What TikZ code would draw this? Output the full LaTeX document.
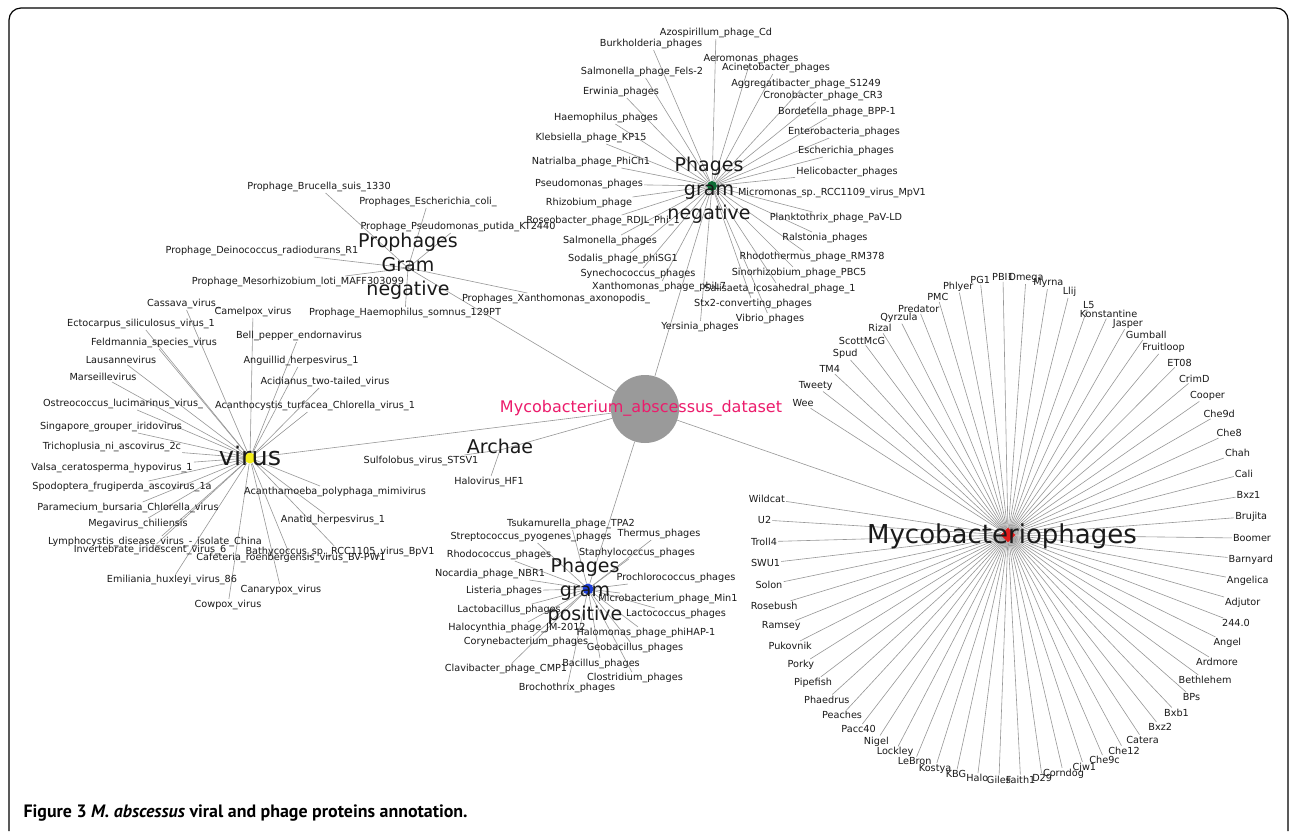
\documentclass[tikz,border=0pt]{standalone}
\usepackage{fontspec}
\setmainfont{DejaVu Sans}
\newfontfamily\capfont{PT Sans}
\usetikzlibrary{backgrounds,shapes.geometric,calc}
\definecolor{Ink}{HTML}{1A1A1A}
\definecolor{EdgeGrey}{HTML}{979797}
\definecolor{HubGrey}{HTML}{9A9A9A}
\definecolor{DataPink}{HTML}{EC1C6C}
\definecolor{NegGreen}{HTML}{0E6B35}
\definecolor{PosBlue}{HTML}{1E3FD8}
\definecolor{VirYellow}{HTML}{F4EE1A}
\definecolor{MycoRed}{HTML}{E01B1B}

\begin{document}
\begin{tikzpicture}[x=1pt,y=-1pt,
  leaf/.style={inner sep=1pt,text=Ink,font=\fontsize{9.7}{11}\selectfont},
  hubtext/.style={align=center,text=Ink,font=\fontsize{19}{24}\selectfont},
  hubdot/.style={circle,inner sep=0pt,minimum size=10pt},
  edge/.style={EdgeGrey,line width=.6pt}]
\useasboundingbox (0,0) rectangle (1293,831);
\draw[line width=1.2pt,rounded corners=12pt] (9,831)--(9,8)--(1288,8)--(1288,831);
\node[anchor=base west,font=\capfont\bfseries\fontsize{17.9}{20}\selectfont] (caption) at (20,817) {Figure 3 \textit{M. abscessus} viral and phage proteins annotation.};

\node[circle,fill=HubGrey,minimum size=68pt,inner sep=0pt] (mab) at (645,409) {};
\node[text=DataPink,font=\fontsize{16}{18}\selectfont] (mablabel) at (641,408) {Mycobacterium\_abscessus\_dataset};

\node[hubdot,fill=NegGreen] (gneg) at (712,186) {};
\node[hubtext] (gneglabel) at (709,190) {Phages\\gram\\negative};
\foreach \x/\y/\lbl [count=\i] in {716/33/Azospirillum\_phage\_Cd,651/44/Burkholderia\_phages,751/59/Aeromonas\_phages,776/68/Acinetobacter\_phages,642/72/Salmonella\_phage\_Fels-2,806/84/Aggregatibacter\_phage\_S1249,823/96/Cronobacter\_phage\_CR3,621/92/Erwinia\_phages,837/112/Bordetella\_phage\_BPP-1,606/118/Haemophilus\_phages,844/132/Enterobacteria\_phages,591/138/Klebsiella\_phage\_KP15,846/151/Escherichia\_phages,591/162/Natrialba\_phage\_PhiCh1,847/172/Helicobacter\_phages,589/184/Pseudomonas\_phages,832/193/Micromonas\_sp.\_RCC1109\_virus\_MpV1,589/203/Rhizobium\_phage,836/218/Planktothrix\_phage\_PaV-LD,603/221/Roseobacter\_phage\_RDJL\_Phi\_1,610/241/Salmonella\_phages,825/238/Ralstonia\_phages,623/259/Sodalis\_phage\_phiSG1,812/257/Rhodothermus\_phage\_RM378,638/274/Synechococcus\_phages,799/273/Sinorhizobium\_phage\_PBC5,659/287/Xanthomonas\_phage\_phiL7,780/289/Salisaeta\_icosahedral\_phage\_1,753/304/Stx2-converting\_phages,770/319/Vibrio\_phages,700/327/Yersinia\_phages}
  {\node[leaf] (gn\i) at (\x,\y) {\lbl};}

\coordinate (proph) at (408,268);
\node[hubtext] (prophlabel) at (408,266) {Prophages\\Gram\\negative};
\foreach \x/\y/\lbl [count=\i] in {319/187/Prophage\_Brucella\_suis\_1330,428/202/Prophages\_Escherichia\_coli\_,458/227/Prophage\_Pseudomonas\_putida\_KT2440,262/251/Prophage\_Deinococcus\_radiodurans\_R1,298/282/Prophage\_Mesorhizobium\_loti\_MAFF303099,405/313/Prophage\_Haemophilus\_somnus\_129PT,556/299/Prophages\_Xanthomonas\_axonopodis\_}
  {\node[leaf] (pp\i) at (\x,\y) {\lbl};}

\node[hubdot,fill=VirYellow,minimum size=11pt] (vir) at (250,458) {};
\node[text=Ink,font=\fontsize{25.5}{28}\selectfont] (virlabel) at (250,456) {virus};
\foreach \x/\y/\lbl [count=\i] in {184/304/Cassava\_virus\_,253/312/Camelpox\_virus,141/324/Ectocarpus\_siliculosus\_virus\_1,299/336/Bell\_pepper\_endornavirus,154/343/Feldmannia\_species\_virus,121/360/Lausannevirus,301/361/Anguillid\_herpesvirus\_1,103/377/Marseillevirus,325/382/Acidianus\_two-tailed\_virus,123/404/Ostreococcus\_lucimarinus\_virus\_,315/406/Acanthocystis\_turfacea\_Chlorella\_virus\_1,111/427/Singapore\_grouper\_iridovirus,112/447/Trichoplusia\_ni\_ascovirus\_2c,112/468/Valsa\_ceratosperma\_hypovirus\_1,122/487/Spodoptera\_frugiperda\_ascovirus\_1a,335/492/Acanthamoeba\_polyphaga\_mimivirus,128/508/Paramecium\_bursaria\_Chlorella\_virus,333/520/Anatid\_herpesvirus\_1,138/524/Megavirus\_chiliensis,155/542/Lymphocystis\_disease\_virus\_-\_isolate\_China,340/552/Bathycoccus\_sp.\_RCC1105\_virus\_BpV1,150/550/Invertebrate\_iridescent\_virus\_6,291/558/Cafeteria\_roenbergensis\_virus\_BV-PW1,172/580/Emiliania\_huxleyi\_virus\_86,281/590/Canarypox\_virus,228/605/Cowpox\_virus}
  {\node[leaf] (vi\i) at (\x,\y) {\lbl};}

\coordinate (arch) at (500,450);
\node[text=Ink,font=\fontsize{19}{22}\selectfont] (archlabel) at (500,446) {Archae};
\node[leaf] (ar1) at (421,461) {Sulfolobus\_virus\_STSV1};
\node[leaf] (ar2) at (489,482) {Halovirus\_HF1};

\node[hubdot,fill=PosBlue,minimum size=11pt] (gpos) at (588,589) {};
\node[hubtext] (gposlabel) at (585,591) {Phages\\gram\\positive};
\foreach \x/\y/\lbl [count=\i] in {571/524/Tsukamurella\_phage\_TPA2,531/537/Streptococcus\_pyogenes\_phages,659/534/Thermus\_phages,499/555/Rhodococcus\_phages,637/553/Staphylococcus\_phages,490/574/Nocardia\_phage\_NBR1,676/578/Prochlorococcus\_phages,504/591/Listeria\_phages,668/599/Microbacterium\_phage\_Min1,509/610/Lactobacillus\_phages,676/614/Lactococcus\_phages,517/628/Halocynthia\_phage\_JM-2012,646/633/Halomonas\_phage\_phiHAP-1,526/642/Corynebacterium\_phages,635/648/Geobacillus\_phages,506/669/Clavibacter\_phage\_CMP1,601/664/Bacillus\_phages,635/678/Clostridium\_phages,567/688/Brochothrix\_phages}
  {\node[leaf] (gp\i) at (\x,\y) {\lbl};}

\coordinate (mpc) at (1008,536);
\node[diamond,fill=MycoRed,inner sep=0pt,minimum size=15pt] (myco) at (1008,535) {};
\node[text=Ink,font=\fontsize{26}{30}\selectfont] (mycolabel) at (1002,536) {Mycobacteriophages};
\foreach \lbl [count=\i from 0] in {Wee,Tweety,TM4,Spud,ScottMcG,Rizal,Qyrzula,Predator,PMC,Phlyer,PG1,PBI1,Omega,Myrna,Llij,L5,Konstantine,Jasper,Gumball,Fruitloop,ET08,CrimD,Cooper,Che9d,Che8,Chah,Cali,Bxz1,Brujita,Boomer,Barnyard,Angelica,Adjutor,244.0,Angel,Ardmore,Bethlehem,BPs,Bxb1,Bxz2,Catera,Che12,Che9c,Cjw1,Corndog,D29,Faith1,Giles,Halo,KBG,Kostya,LeBron,Lockley,Nigel,Pacc40,Peaches,Phaedrus,Pipefish,Porky,Pukovnik,Ramsey,Rosebush,Solon,SWU1,Troll4,U2,Wildcat}
  {\pgfmathsetmacro\a{147.1-5.09*\i}
   \pgfmathsetmacro\b{5.09*\i-147.1}
   \pgfmathsetmacro\r{244+15*max(0,1-((\a-90)/20)^2)}
   \node[leaf] (mp\i) at ($(mpc)+(\b:\r)$) {\lbl};}

\begin{scope}[on background layer]
\fill[white] (0,0) rectangle (1293,831);
\foreach \i in {1,...,31}{\draw[edge] (gneg)--(gn\i);}
\foreach \i in {1,...,7}{\draw[edge] (proph)--(pp\i);}
\foreach \i in {1,...,26}{\draw[edge] (vir)--(vi\i);}
\foreach \i in {1,...,19}{\draw[edge] (gpos)--(gp\i);}
\foreach \i in {0,...,66}{\draw[edge] (myco)--(mp\i);}
\draw[edge] (arch)--(ar1); \draw[edge] (arch)--(ar2);
\draw[edge] (mab)--(gneg); \draw[edge] (mab)--(proph); \draw[edge] (mab)--(vir);
\draw[edge] (mab)--(arch); \draw[edge] (mab)--(gpos); \draw[edge] (mab)--(myco);
\end{scope}
\end{tikzpicture}
\end{document}
